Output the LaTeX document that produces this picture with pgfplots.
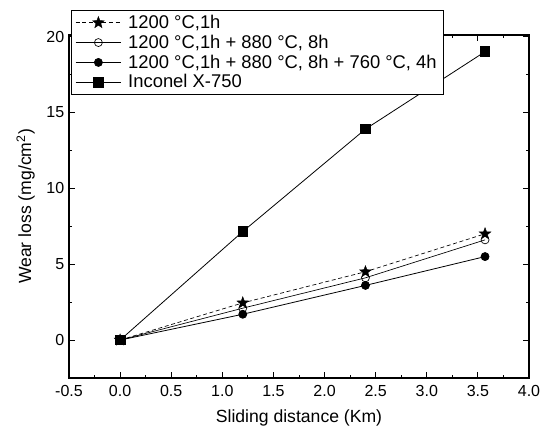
\documentclass[border=0pt]{standalone}
\usepackage{pgfplots}
\pgfplotsset{compat=1.18}
\usepackage{fontspec}
\setmainfont{Liberation Sans}

% filled five-point star
\pgfdeclareplotmark{fstar}{%
  \pgfpathmoveto{\pgfpointpolar{90}{\pgfplotmarksize}}%
  \pgfpathlineto{\pgfpointpolar{126}{0.42\pgfplotmarksize}}%
  \pgfpathlineto{\pgfpointpolar{162}{\pgfplotmarksize}}%
  \pgfpathlineto{\pgfpointpolar{198}{0.42\pgfplotmarksize}}%
  \pgfpathlineto{\pgfpointpolar{234}{\pgfplotmarksize}}%
  \pgfpathlineto{\pgfpointpolar{270}{0.42\pgfplotmarksize}}%
  \pgfpathlineto{\pgfpointpolar{306}{\pgfplotmarksize}}%
  \pgfpathlineto{\pgfpointpolar{342}{0.42\pgfplotmarksize}}%
  \pgfpathlineto{\pgfpointpolar{18}{\pgfplotmarksize}}%
  \pgfpathlineto{\pgfpointpolar{54}{0.42\pgfplotmarksize}}%
  \pgfpathclose
  \pgfusepathqfillstroke
}

\begin{document}
\begin{tikzpicture}[x=0.75pt,y=0.75pt]
  % frame of the whole picture, in reference pixels (axis box at 69..529, 35..378)
  \useasboundingbox (-69,-49) rectangle (476,378);
  \begin{axis}[
    scale only axis,
    width=345pt, height=257.25pt,
    at={(0,0)}, anchor=south west,
    xmin=-0.5, xmax=4.0,
    ymin=-2.5, ymax=20.1,
    xtick={-0.5,0,...,4.0},
    ytick={0,5,10,15,20},
    minor x tick num=1,
    minor y tick num=1,
    tick align=inside,
    major tick length=4.5pt,
    minor tick length=2.5pt,
    tick style={black, line width=0.6pt},
    axis line style={line width=0.9pt},
    /pgf/number format/assume math mode=true,
    tick label style={font=\fontsize{12}{14}\selectfont},
    xticklabel style={yshift=-2pt, /pgf/number format/.cd, fixed, fixed zerofill, precision=1},
    xlabel={Sliding distance (Km)},
    ylabel={Wear loss (mg/cm\textsuperscript{2})},
    label style={font=\fontsize{13.2}{15}\selectfont},
    xlabel style={yshift=-3pt},
    ylabel style={yshift=2pt},
    legend cell align=left,
    legend style={
      at={(0.004,1.073)}, anchor=north west,
      draw=black, line width=0.6pt, fill=white,
      font=\fontsize{13.8}{15}\selectfont,
      row sep=-0.6pt, inner xsep=3pt, inner ysep=1.5pt,
      /tikz/every odd column/.append style={column sep=3pt},
    },
    legend image code/.code={
      \draw[mark repeat=2,mark phase=2,#1]
        plot coordinates {(0cm,0cm) (0.6cm,0cm) (1.2cm,0cm)};
    },
  ]
    \addplot[black, line width=0.5pt, densely dashed, mark=fstar, mark size=4.6pt,
      mark options={solid, fill=black, line width=0.3pt}]
      coordinates {(0,0) (1.2,2.45) (2.4,4.5) (3.57,7.0)};
    \addlegendentry{1200 °C,1h}
    \addplot[black, line width=0.5pt, mark=o, mark size=3pt,
      mark options={solid, fill=white}]
      coordinates {(0,0) (1.2,2.1) (2.4,4.1) (3.57,6.6)};
    \addlegendentry{1200 °C,1h + 880 °C, 8h}
    \addplot[black, line width=0.6pt, mark=*, mark size=3pt]
      coordinates {(0,0) (1.2,1.7) (2.4,3.6) (3.57,5.5)};
    \addlegendentry{1200 °C,1h + 880 °C, 8h + 760 °C, 4h}
    \addplot[black, line width=0.6pt, mark=square*, mark size=3.6pt]
      coordinates {(0,0) (1.2,7.15) (2.4,13.9) (3.57,19.0)};
    \addlegendentry{Inconel X-750}
  \end{axis}
\end{tikzpicture}
\end{document}
